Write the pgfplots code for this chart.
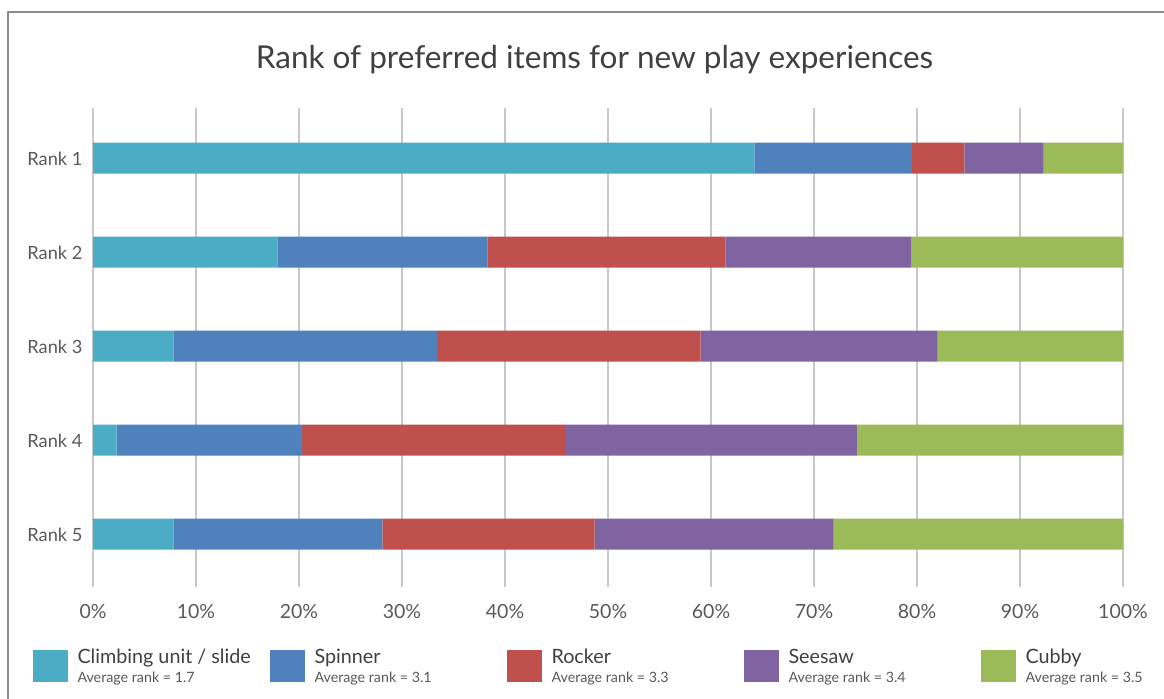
\documentclass[border=0pt]{standalone}
\usepackage{pgfplots}
\pgfplotsset{compat=1.18}
\usepackage{fontspec}
\setmainfont{Lato}
\definecolor{cClimb}{HTML}{4BACC6}
\definecolor{cSpin}{HTML}{4F81BD}
\definecolor{cRock}{HTML}{C0504D}
\definecolor{cSee}{HTML}{8064A2}
\definecolor{cCub}{HTML}{9BBB59}
\definecolor{gridgray}{HTML}{C8C8C8}
\definecolor{labelgray}{HTML}{595959}
\definecolor{titlegray}{HTML}{404040}
\definecolor{framegray}{HTML}{8C8C8C}
\begin{document}
\begin{tikzpicture}
\useasboundingbox (0,0) rectangle (465.6pt,-279.2pt);
\draw[color=framegray, line width=0.7pt] (3.2pt,-300pt) -- (3.2pt,-4.8pt) -- (480pt,-4.8pt);
\node[anchor=base, font=\fontsize{12.6}{14}\selectfont, text=titlegray] at (237.8pt,-27.2pt) {Rank of preferred items for new play experiences};
\begin{axis}[
  at={(37.2pt,-234.8pt)}, anchor=south west,
  scale only axis, width=412pt, height=191.6pt,
  xbar stacked, bar width=12.4pt,
  xmin=0, xmax=100, ymin=0.468, ymax=5.564, y dir=reverse,
  xtick={0,10,20,30,40,50,60,70,80,90,100},
  xticklabels={0\%,10\%,20\%,30\%,40\%,50\%,60\%,70\%,80\%,90\%,100\%},
  ytick={1,2,3,4,5},
  yticklabels={Rank 1,Rank 2,Rank 3,Rank 4,Rank 5},
  xmajorgrids, grid style={color=gridgray, line width=0.5pt},
  axis line style={draw=none}, major tick length=0pt, tick style={draw=none},
  tick label style={text=labelgray},
  xticklabel style={font=\fontsize{7.8}{9}\selectfont, anchor=base, inner sep=0pt, yshift=-12.4pt},
  yticklabel style={font=\fontsize{7.3}{8}\selectfont, anchor=base east, inner sep=0pt, xshift=-4pt, yshift=-2.8pt},
]
\addplot[fill=cClimb, draw=none] coordinates {(64.2,1) (17.9,2) (7.8,3) (2.3,4) (7.8,5)};
\addplot[fill=cSpin, draw=none] coordinates {(15.3,1) (20.4,2) (25.6,3) (18.0,4) (20.3,5)};
\addplot[fill=cRock, draw=none] coordinates {(5.1,1) (23.1,2) (25.6,3) (25.6,4) (20.6,5)};
\addplot[fill=cSee, draw=none] coordinates {(7.7,1) (18.0,2) (23.0,3) (28.3,4) (23.2,5)};
\addplot[fill=cCub, draw=none] coordinates {(7.7,1) (20.6,2) (18.0,3) (25.8,4) (28.1,5)};
\end{axis}
% legend
\foreach \dx/\col/\name/\avg in {0/cClimb/{Climbing unit / slide}/1.7, 94.8/cSpin/Spinner/3.1, 189.6/cRock/Rocker/3.3, 284.4/cSee/Seesaw/3.4, 379.2/cCub/Cubby/3.5}{
  \fill[\col] (13.2pt+\dx pt,-260pt) rectangle (27.2pt+\dx pt,-272.8pt);
  \node[anchor=base west, inner sep=0pt, font=\fontsize{7.9}{9}\selectfont, text=titlegray] at (30.8pt+\dx pt,-265.2pt) {\name};
  \node[anchor=base west, inner sep=0pt, font=\fontsize{5.7}{6.5}\selectfont, text=labelgray] at (30.8pt+\dx pt,-272.8pt) {Average rank = \avg};
}
\end{tikzpicture}
\end{document}
